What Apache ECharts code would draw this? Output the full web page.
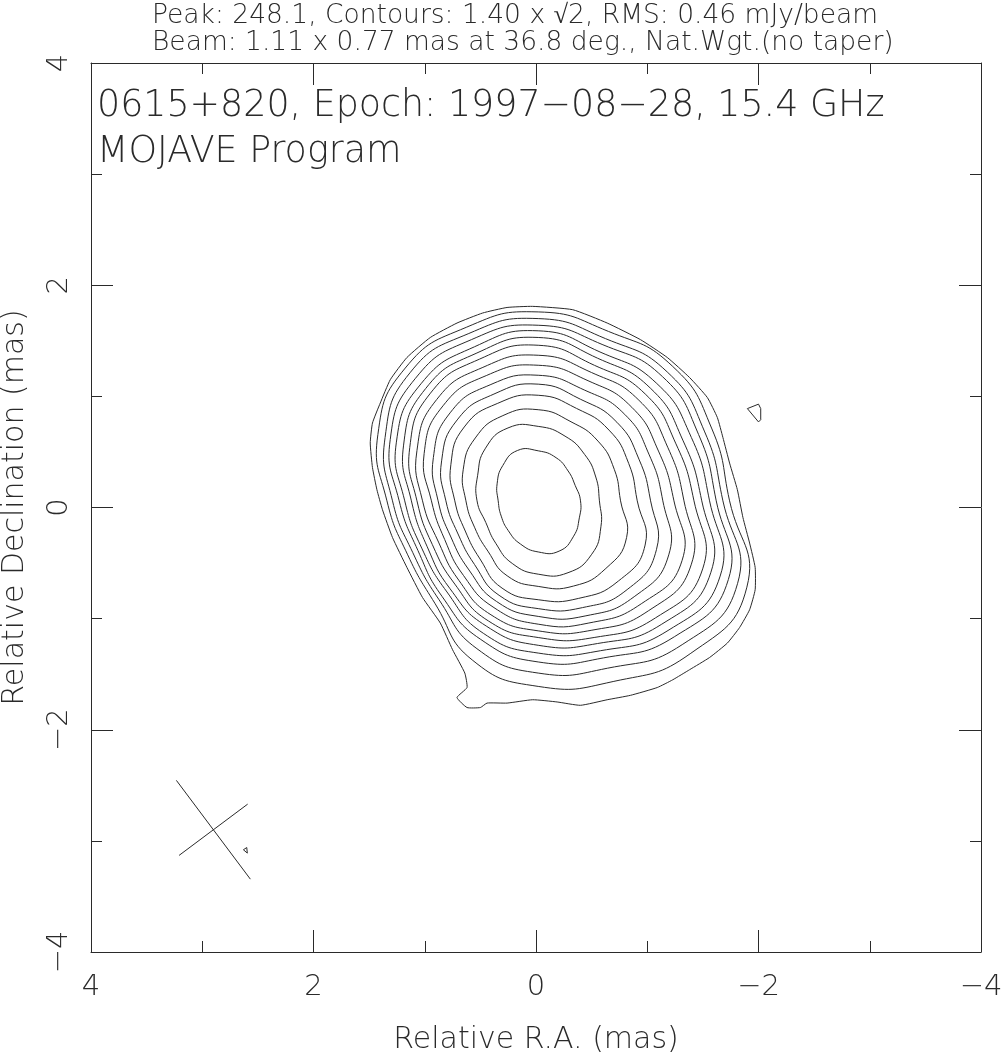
<!DOCTYPE html>
<html><head><meta charset="utf-8">
<script src="https://cdn.jsdelivr.net/npm/echarts@6/dist/echarts.min.js"></script>
<style>html,body{margin:0;padding:0;background:#fff}#c{width:1001px;height:1058px}</style>
</head><body><div id="c"></div>
<script>
// ---------- data ----------
const headerLines = [
  'Peak: 248.1, Contours: 1.40 x \u221A2, RMS: 0.46 mJy/beam',
  'Beam: 1.11 x 0.77 mas at 36.8 deg., Nat.Wgt.(no taper)'
];
const plotLines = ['0615+820, Epoch: 1997\u221208\u221228, 15.4 GHz', 'MOJAVE Program'];
const xName = 'Relative R.A. (mas)';
const yName = 'Relative Declination (mas)';

// beam: major, minor (mas), position angle (deg), drawn at
const beamMajor = 1.11, beamMinor = 0.77, beamPA = 36.8;
const beamCenter = [2.9, -2.9];

// contour centre (peak) in [RA, Dec] mas
const peakCenter = [-0.02, 0.06];
// screen angles (deg, 0 = toward right/west, 90 = up/north) of rays along which contour radii were read
const rayAngles = [0, 22.5, 45, 67.5, 90, 112.5, 135, 157.5, 180, 202.5, 225, 247.5, 270, 292.5, 315, 337.5];
// radii (mas) of contours 2..15 (outer to inner) along the rays
const contourRadii = [
  [1.72, 1.69, 1.71, 1.65, 1.70, 1.69, 1.69, 1.56, 1.36, 1.27, 1.31, 1.55, 1.67, 1.76, 1.94, 2.03],
  [1.66, 1.62, 1.64, 1.58, 1.64, 1.63, 1.63, 1.49, 1.31, 1.22, 1.26, 1.44, 1.55, 1.63, 1.83, 1.94],
  [1.60, 1.56, 1.58, 1.52, 1.58, 1.57, 1.56, 1.44, 1.25, 1.17, 1.22, 1.35, 1.45, 1.53, 1.73, 1.85],
  [1.54, 1.49, 1.50, 1.45, 1.53, 1.50, 1.49, 1.38, 1.20, 1.13, 1.16, 1.29, 1.37, 1.46, 1.65, 1.77],
  [1.47, 1.41, 1.43, 1.39, 1.47, 1.44, 1.43, 1.31, 1.14, 1.08, 1.12, 1.22, 1.30, 1.39, 1.57, 1.68],
  [1.40, 1.34, 1.36, 1.32, 1.40, 1.38, 1.37, 1.25, 1.09, 1.03, 1.06, 1.17, 1.23, 1.33, 1.49, 1.60],
  [1.31, 1.26, 1.28, 1.25, 1.31, 1.30, 1.29, 1.18, 1.04, 0.97, 1.01, 1.11, 1.17, 1.26, 1.40, 1.49],
  [1.22, 1.17, 1.19, 1.17, 1.22, 1.22, 1.21, 1.11, 0.96, 0.91, 0.95, 1.04, 1.11, 1.19, 1.31, 1.40],
  [1.12, 1.08, 1.10, 1.08, 1.13, 1.13, 1.12, 1.02, 0.90, 0.85, 0.88, 0.98, 1.04, 1.12, 1.22, 1.27],
  [1.01, 0.98, 1.00, 0.99, 1.05, 1.04, 1.03, 0.94, 0.83, 0.78, 0.81, 0.92, 0.97, 1.04, 1.13, 1.15],
  [0.89, 0.88, 0.90, 0.90, 0.95, 0.95, 0.94, 0.85, 0.75, 0.71, 0.74, 0.85, 0.89, 0.95, 1.02, 1.04],
  [0.74, 0.74, 0.76, 0.77, 0.82, 0.83, 0.80, 0.73, 0.65, 0.62, 0.64, 0.73, 0.77, 0.83, 0.86, 0.86],
  [0.55, 0.56, 0.59, 0.63, 0.67, 0.71, 0.67, 0.59, 0.55, 0.51, 0.54, 0.61, 0.66, 0.70, 0.68, 0.61],
  [0.38, 0.36, 0.38, 0.42, 0.45, 0.49, 0.45, 0.40, 0.36, 0.36, 0.38, 0.42, 0.46, 0.49, 0.45, 0.40]
];
// outermost contour traced as [RA, Dec] points
const outerContour = [
  [0.03,1.81],[-0.33,1.78],[-0.64,1.66],[-0.94,1.51],[-1.18,1.35],[-1.38,1.17],[-1.54,0.99],[-1.63,0.81],
  [-1.68,0.63],[-1.74,0.40],[-1.81,0.16],[-1.86,-0.09],[-1.92,-0.32],[-1.97,-0.54],[-1.97,-0.74],[-1.92,-0.92],
  [-1.83,-1.08],[-1.72,-1.22],[-1.56,-1.35],[-1.38,-1.46],[-1.23,-1.55],[-1.09,-1.62],[-0.85,-1.69],[-0.64,-1.73],
  [-0.40,-1.78],[-0.19,-1.75],[0.03,-1.73],[0.26,-1.76],[0.44,-1.76],[0.50,-1.80],[0.62,-1.80],[0.71,-1.71],
  [0.62,-1.62],[0.64,-1.49],[0.75,-1.28],[0.86,-1.04],[1.02,-0.81],[1.16,-0.54],[1.29,-0.27],[1.38,-0.02],
  [1.43,0.16],[1.47,0.36],[1.49,0.58],[1.47,0.76],[1.40,0.94],[1.31,1.15],[1.16,1.35],[0.95,1.53],
  [0.71,1.66],[0.48,1.75],[0.26,1.80]
];
// small isolated contours
const blobEast = [[-1.90,0.89],[-2.00,0.93],[-2.02,0.89],[-2.02,0.79],[-2.00,0.77]];
const blobBeam = [[2.63,-3.08],[2.60,-3.06],[2.595,-3.11]];

// ---------- build ----------
const FONT = 'DejaVu Sans';
const INK = '#2a2a2a';
function ring(radii) {
  return radii.map((r, j) => {
    const t = rayAngles[j] * Math.PI / 180;
    return [peakCenter[0] - r * Math.cos(t), peakCenter[1] + r * Math.sin(t)];
  });
}
const contours = [{ pts: outerContour, smooth: 0.15 }];
contourRadii.forEach(r => contours.push({ pts: ring(r), smooth: 0.5 }));
contours.push({ pts: blobEast, smooth: 0 }, { pts: blobBeam, smooth: 0 });

const d2r = Math.PI / 180;
const majorLine = [
  [beamCenter[0] + beamMajor / 2 * Math.sin(beamPA * d2r), beamCenter[1] + beamMajor / 2 * Math.cos(beamPA * d2r)],
  [beamCenter[0] - beamMajor / 2 * Math.sin(beamPA * d2r), beamCenter[1] - beamMajor / 2 * Math.cos(beamPA * d2r)]
];
const minorLine = [
  [beamCenter[0] + beamMinor / 2 * Math.cos(beamPA * d2r), beamCenter[1] - beamMinor / 2 * Math.sin(beamPA * d2r)],
  [beamCenter[0] - beamMinor / 2 * Math.cos(beamPA * d2r), beamCenter[1] + beamMinor / 2 * Math.sin(beamPA * d2r)]
];
function lineSeries(data) {
  return { type: 'line', data: data, showSymbol: false, symbol: 'none',
    lineStyle: { color: INK, width: 1 }, silent: true, animation: false, z: 3 };
}
const series = [
  { type: 'custom', coordinateSystem: 'cartesian2d', silent: true, animation: false, z: 3,
    data: contours.map(c => c.pts[0]),
    renderItem: function (params, api) {
      const c = contours[params.dataIndex];
      return { type: 'polygon',
        shape: { points: c.pts.map(p => api.coord(p)), smooth: c.smooth },
        style: { fill: null, stroke: INK, lineWidth: 1 } };
    } },
  lineSeries(majorLine), lineSeries(minorLine)
];

const fmt = v => (v < 0 ? '\u2212' + Math.abs(v) : String(v));
function axisBase(extra) {
  return Object.assign({
    type: 'value', min: -4, max: 4, interval: 2,
    axisLine: { show: true, onZero: false, lineStyle: { color: INK, width: 1 } },
    axisTick: { show: true, inside: true, length: 22, lineStyle: { color: INK, width: 1 } },
    minorTick: { show: true, splitNumber: 2, length: 11, lineStyle: { color: INK, width: 1 } },
    splitLine: { show: false }, minorSplitLine: { show: false }
  }, extra);
}
const labelStyle = { show: true, formatter: fmt, fontFamily: FONT, fontSize: 29, color: INK, fontWeight: 200 };
const nameStyle = { fontFamily: FONT, fontSize: 30, fontWeight: 200, color: INK };

const option = {
  backgroundColor: '#fff',
  animation: false,
  title: [
    { text: headerLines.join('\n'), left: 152, top: 3, padding: 0,
      textStyle: { fontFamily: FONT, fontSize: 26.5, fontWeight: 200, color: INK, lineHeight: 27 } },
    { text: plotLines.join('\n'), left: 97, top: 84, padding: 0,
      textStyle: { fontFamily: FONT, fontSize: 36.4, fontWeight: 200, color: INK, lineHeight: 46 } }
  ],
  grid: { left: 91, top: 63, width: 890, height: 889, containLabel: false, outerBoundsMode: 'none' },
  xAxis: [
    axisBase({ position: 'bottom', inverse: true,
      axisLabel: Object.assign({}, labelStyle, { margin: 21 }),
      name: xName, nameLocation: 'middle', nameGap: 73, nameTextStyle: nameStyle }),
    axisBase({ position: 'top', inverse: true, axisLabel: { show: false } })
  ],
  yAxis: [
    axisBase({ position: 'left',
      axisLabel: Object.assign({}, labelStyle, { rotate: 90, margin: 17 }),
      name: yName, nameLocation: 'middle', nameGap: 61, nameRotate: 90, nameTextStyle: nameStyle }),
    axisBase({ position: 'right', axisLabel: { show: false } })
  ],
  series: series
};
const chart = echarts.init(document.getElementById('c'), null, { renderer: 'canvas' });
chart.setOption(option);
</script></body></html>
